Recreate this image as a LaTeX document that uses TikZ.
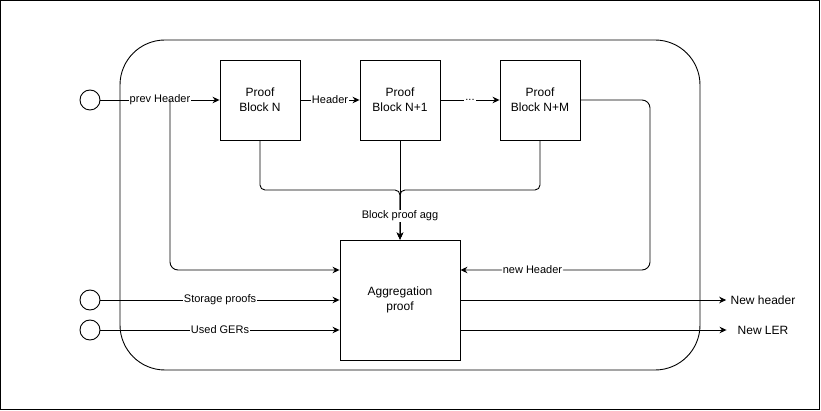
\documentclass[tikz,border=0pt]{standalone}
\usepackage{fontspec}
\setmainfont{Liberation Sans}
\usetikzlibrary{arrows.meta}
\begin{document}
\begin{tikzpicture}[x=1pt,y=-1pt,line width=0.9pt,
    blk/.style={draw,minimum size=80pt,inner sep=0pt,align=center,font=\fontsize{12}{15}\selectfont},
    port/.style={draw,circle,minimum size=20pt,inner sep=0pt},
    lbl/.style={fill=white,inner sep=1pt,font=\fontsize{11}{13}\selectfont},
    outlbl/.style={minimum width=64pt,inner sep=0pt,font=\fontsize{12}{15}\selectfont},
    arr/.style={-{Stealth[length=7pt,width=6.5pt]}}]
    \useasboundingbox (0,0) rectangle (821,411);
    \draw (0.5,0.5) rectangle (819.5,409.5);
    \draw[rounded corners=45pt] (120,40) rectangle (700,370);
    \node[blk] (blockN) at (260,100) {Proof\\Block N};
    \node[blk] (blockN1) at (400,100) {Proof\\Block N+1};
    \node[blk] (blockNM) at (540,100) {Proof\\Block N+M};
    \node[blk,minimum size=120pt] (agg) at (400,300) {Aggregation\\proof};
    \node[port] (inPrev) at (90,100) {};
    \node[port] (inStorage) at (90,300) {};
    \node[port] (inGers) at (90,330) {};
    \node[outlbl] (outHeader) at (763,300) {New header};
    \node[outlbl] (outLer) at (763,330) {New LER};
    \coordinate (split) at (170,100);
    \coordinate (merge) at (400,190);
    \coordinate (turn) at (650,100);
    \draw[arr] (inPrev) -- node[lbl] {prev Header} (blockN);
    \draw[arr] (blockN) -- node[lbl] {Header} (blockN1);
    \draw[arr] (blockN1) -- node[lbl] {...} (blockNM);
    \draw[arr,rounded corners=8pt] (split) |- ([yshift=30pt]agg.west);
    \draw[arr,rounded corners=5pt] (blockN.south) |- (merge) -- (agg.north);
    \draw[arr] (blockN1.south) -- (agg.north);
    \draw[arr,rounded corners=5pt] (blockNM.south) |- (merge) -- (agg.north);
    \node[lbl] (aggLbl) at (400,216) {Block proof agg};
    \draw[arr,rounded corners=8pt] (blockNM.east) -- (turn) |- node[lbl,pos=0.81] {new Header} ([yshift=30pt]agg.east);
    \draw[arr] (inStorage) -- node[lbl] {Storage proofs} (agg.west);
    \draw[arr] (inGers) -- node[lbl] {Used GERs} ([yshift=-30pt]agg.west);
    \draw[arr] (agg.east) -- ([xshift=-4pt]outHeader.west);
    \draw[arr] ([yshift=-30pt]agg.east) -- ([xshift=-4pt]outLer.west);
\end{tikzpicture}
\end{document}
